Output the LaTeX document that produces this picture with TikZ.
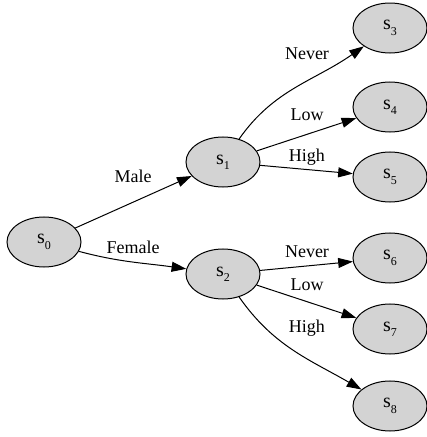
\documentclass[tikz,border=0pt]{standalone}
\usepackage{fontspec}
\setmainfont{Liberation Serif}
\usetikzlibrary{arrows.meta,shapes.geometric}
\definecolor{stategray}{HTML}{D3D3D3}
% state label: letter s with a lowered, smaller index
\newcommand{\stlabel}[1]{s\raisebox{-4pt}{\fontsize{9}{9}\selectfont #1}}
\begin{document}
\begin{tikzpicture}[x=0.75pt,y=0.75pt,
  state/.style={ellipse, draw, fill=stategray, line width=0.75pt,
    minimum width=55.5pt, minimum height=37.5pt, inner sep=0pt,
    font=\fontsize{15}{16}\selectfont},
  edge/.style={-{Triangle[length=11pt,width=7.5pt]}, line width=0.75pt},
  lbl/.style={inner sep=0pt, font=\fontsize{13.5}{15}\selectfont}]
\useasboundingbox (0,0) rectangle (427,437);

% states
\node[state] (s0) at (44,195)  {\stlabel{0}};
\node[state] (s1) at (223,275) {\stlabel{1}};
\node[state] (s2) at (223,163) {\stlabel{2}};
\node[state] (s3) at (390,409) {\stlabel{3}};
\node[state] (s4) at (390,330) {\stlabel{4}};
\node[state] (s5) at (390,260) {\stlabel{5}};
\node[state] (s6) at (390,179) {\stlabel{6}};
\node[state] (s7) at (390,108) {\stlabel{7}};
\node[state] (s8) at (390,31)  {\stlabel{8}};

% transitions
\draw[edge] (s0) -- (s1);
\draw[edge] (s0) to[out=-15,in=172] (s2);
\draw[edge] (s1) to[out=55,in=215] (s3);
\draw[edge] (s1) -- (s4);
\draw[edge] (s1) -- (s5);
\draw[edge] (s2) -- (s6);
\draw[edge] (s2) -- (s7);
\draw[edge] (s2) to[out=-55,in=150] (s8);

% transition labels
\node[lbl] (lmale)   at (133,261) {Male};
\node[lbl] (lfemale) at (133,190) {Female};
\node[lbl] (lnever1) at (307,383) {Never};
\node[lbl] (llow1)   at (307,322) {Low};
\node[lbl] (lhigh1)  at (307,280) {High};
\node[lbl] (lnever2) at (307,185) {Never};
\node[lbl] (llow2)   at (307,152) {Low};
\node[lbl] (lhigh2)  at (307,109) {High};
\end{tikzpicture}
\end{document}
